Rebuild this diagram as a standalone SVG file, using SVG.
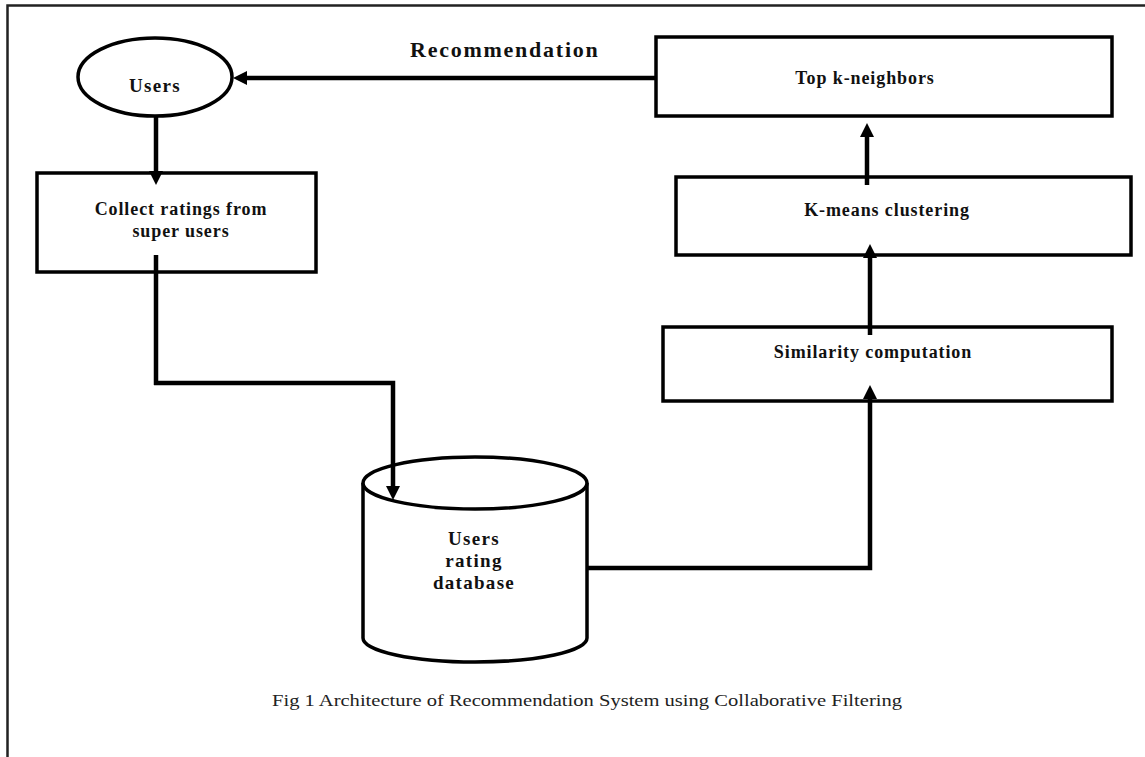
<svg xmlns="http://www.w3.org/2000/svg" width="1145" height="757" viewBox="0 0 1145 757">
<style>
.box{fill:#fff;stroke:#000;stroke-width:3.5}
.lbl{font-family:"Liberation Serif","Times New Roman",serif;font-weight:bold;font-size:18px;letter-spacing:0.9px;fill:#111;text-anchor:middle}
.db{font-size:19px;letter-spacing:1.3px}
.conn{fill:none;stroke:#000;stroke-width:4.5}
</style>
<defs>
<marker id="arr" viewBox="0 0 14 14" refX="5" refY="7" markerWidth="14" markerHeight="14" markerUnits="userSpaceOnUse" orient="auto">
<path d="M0,0 L14,7 L0,14 z" fill="#000"/>
</marker>
</defs>
<rect width="1145" height="757" fill="#fff"/>
<path d="M7.5,757 V5.5 H1145" fill="none" stroke="#222" stroke-width="2.5"/>

<g id="users">
<ellipse cx="155" cy="77" rx="77" ry="39" class="box"/>
<text x="155" y="92" class="lbl db">Users</text>
</g>
<g id="collect">
<rect x="37" y="173" width="279" height="99" class="box"/>
<text x="181" y="215" class="lbl">Collect ratings from</text>
<text x="181" y="237" class="lbl">super users</text>
</g>
<g id="topk">
<rect x="656" y="37" width="456" height="79" class="box"/>
<text x="865" y="84" class="lbl">Top k-neighbors</text>
</g>
<g id="kmeans">
<rect x="676" y="177" width="455" height="78" class="box"/>
<text x="887" y="216" class="lbl">K-means clustering</text>
</g>
<g id="similarity">
<rect x="663" y="327" width="449" height="74" class="box"/>
<text x="873" y="358" class="lbl">Similarity computation</text>
</g>
<g id="database">
<path d="M363,483 V638 A112,24 0 0 0 587,638 V483" class="box"/>
<ellipse cx="475" cy="483" rx="112" ry="26" class="box"/>
<text x="474" y="545" class="lbl db">Users</text>
<text x="474" y="567" class="lbl db">rating</text>
<text x="474" y="589" class="lbl db">database</text>
</g>
<g id="recommendation-label">
<text x="410" y="57" font-family="'Liberation Serif','Times New Roman',serif" font-weight="bold" font-size="22" letter-spacing="1.75" fill="#111">Recommendation</text>
</g>
<g id="connectors">
<path d="M656,78 H242" class="conn" marker-end="url(#arr)"/>
<path d="M156,116 V176" class="conn" marker-end="url(#arr)"/>
<path d="M156,255 V385 M154,383 H393 V491" class="conn" marker-end="url(#arr)"/>
<path d="M587,568 H870 V394" class="conn" marker-end="url(#arr)"/>
<path d="M870,335 V253" class="conn" marker-end="url(#arr)"/>
<path d="M867,185 V132" class="conn" marker-end="url(#arr)"/>
</g>
<text x="272" y="706" font-family="'Liberation Serif','Times New Roman',serif" font-size="17" textLength="630" lengthAdjust="spacingAndGlyphs" fill="#222">Fig 1 Architecture of Recommendation System using Collaborative Filtering</text>
</svg>
